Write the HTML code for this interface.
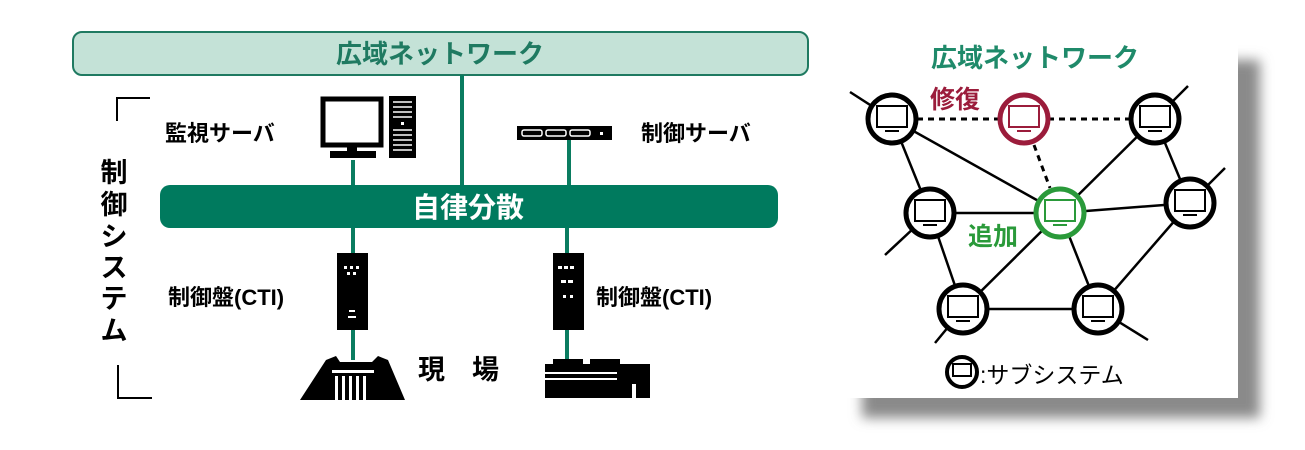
<!DOCTYPE html>
<html><head><meta charset="utf-8"><style>
html,body{margin:0;padding:0;background:#fff;width:1305px;height:450px;overflow:hidden}
svg text{font-family:"Liberation Sans","Noto Sans CJK JP",sans-serif}
</style></head><body>
<svg width="1305" height="450" viewBox="0 0 1305 450" xmlns="http://www.w3.org/2000/svg">
<defs><filter id="bl" x="-10%" y="-10%" width="130%" height="130%"><feGaussianBlur stdDeviation="6"/></filter></defs>
<rect x="73" y="32" width="735" height="43" rx="9" fill="#c4e2d7" stroke="#1f7a61" stroke-width="2"/>
<text x="440" y="63" font-size="26" fill="#1f7a61" text-anchor="middle" font-weight="bold">広域ネットワーク</text>
<line x1="462" y1="75" x2="462" y2="186" stroke="#0a7c60" stroke-width="4"/>
<line x1="353" y1="160" x2="353" y2="186" stroke="#0a7c60" stroke-width="4"/>
<line x1="569" y1="140" x2="569" y2="186" stroke="#0a7c60" stroke-width="4"/>
<line x1="353" y1="228" x2="353" y2="360" stroke="#0a7c60" stroke-width="4"/>
<line x1="567" y1="228" x2="567" y2="362" stroke="#0a7c60" stroke-width="4"/>
<rect x="160" y="185" width="618" height="43" rx="10" fill="#007a5e"/>
<text x="468" y="217" font-size="28" fill="#fff" text-anchor="middle" font-weight="bold">自律分散</text>
<rect x="323" y="99" width="58" height="46" fill="none" stroke="#000" stroke-width="5"/>
<rect x="347" y="145" width="10" height="7" fill="#000"/>
<rect x="330" y="151" width="46" height="7" fill="#000"/>
<rect x="389" y="96" width="27" height="62" fill="#000"/>
<g stroke="#fff" stroke-width="1.5"><line x1="393" y1="102" x2="412" y2="102"/><line x1="393" y1="107" x2="412" y2="107"/><line x1="393" y1="112" x2="412" y2="112"/><line x1="393" y1="117" x2="412" y2="117"/><line x1="393" y1="130" x2="412" y2="130"/><line x1="393" y1="135" x2="412" y2="135"/><line x1="393" y1="140" x2="412" y2="140"/><line x1="393" y1="145" x2="412" y2="145"/><line x1="393" y1="150" x2="412" y2="150"/></g>
<rect x="401" y="122" width="3" height="3" fill="#fff"/>
<text x="165" y="141" font-size="22" fill="#000" font-weight="bold">監視サーバ</text>
<rect x="517" y="126" width="95" height="14" fill="#000"/>
<g fill="none" stroke="#fff" stroke-width="1.5"><rect x="522" y="130" width="20" height="6" rx="2"/><rect x="546" y="130" width="20" height="6" rx="2"/><rect x="570" y="130" width="20" height="6" rx="2"/></g>
<rect x="600" y="132" width="3" height="3" fill="#fff"/>
<text x="641" y="141" font-size="22" fill="#000" font-weight="bold">制御サーバ</text>
<text font-size="27" fill="#000" text-anchor="middle" font-weight="bold"><tspan x="114" y="182">制</tspan><tspan x="114" y="214">御</tspan><tspan x="114" y="246">シ</tspan><tspan x="114" y="277">ス</tspan><tspan x="114" y="308">テ</tspan><tspan x="114" y="340">ム</tspan></text>
<path d="M150 98 H117 V121" fill="none" stroke="#000" stroke-width="2"/>
<path d="M118 365 V398 H152" fill="none" stroke="#000" stroke-width="2"/>
<text x="168" y="305" font-size="22" fill="#000" font-weight="bold">制御盤(CTI)</text>
<rect x="337" y="253" width="31" height="77" fill="#000"/>
<g fill="#fff"><rect x="344" y="266" width="3" height="3"/><rect x="350" y="266" width="3" height="3"/><rect x="356" y="266" width="3" height="3"/><rect x="347" y="272" width="3" height="3"/><rect x="353" y="272" width="3" height="3"/><rect x="349" y="310" width="6" height="2"/><rect x="348" y="316" width="8" height="2"/></g>
<rect x="553" y="253" width="31" height="77" fill="#000"/>
<g fill="#fff"><rect x="558" y="266" width="4" height="3"/><rect x="564" y="266" width="4" height="3"/><rect x="570" y="266" width="4" height="3"/><rect x="561" y="280" width="5" height="3"/><rect x="568" y="280" width="5" height="3"/><rect x="563" y="295" width="3" height="3"/><rect x="570" y="295" width="3" height="3"/></g>
<text x="596" y="305" font-size="22" fill="#000" font-weight="bold">制御盤(CTI)</text>
<path d="M300 400 L326 360 L336 356 L340 362 L372 362 L378 356 L388 360 L405 400 Z" fill="#000"/>
<g fill="#fff"><rect x="332" y="370" width="42" height="3"/><rect x="335" y="376" width="3" height="24"/><rect x="342" y="376" width="3" height="24"/><rect x="349" y="376" width="3" height="24"/><rect x="356" y="376" width="3" height="24"/><rect x="363" y="376" width="3" height="24"/></g>
<text x="418" y="379" font-size="27" fill="#000" font-weight="bold">現　場</text>
<path d="M545 364 H650 V398 H636 V384 H632 V398 H545 Z" fill="#000"/>
<rect x="553" y="359" width="30" height="6" fill="#000"/><rect x="590" y="359" width="30" height="6" fill="#000"/>
<g fill="#fff"><rect x="545" y="372" width="72" height="2"/><rect x="545" y="378" width="72" height="2"/></g>
<rect x="862" y="60" width="398" height="358" fill="#8a8a8a" filter="url(#bl)"/>
<rect x="840" y="38" width="398" height="360" fill="#fff"/>
<text x="1035" y="67" font-size="26" fill="#1f8a6a" text-anchor="middle" font-weight="bold">広域ネットワーク</text>
<g stroke="#000" stroke-width="2.5" fill="none">
<line x1="850" y1="92" x2="892" y2="119"/>
<line x1="1188" y1="86" x2="1155" y2="119"/>
<line x1="1225" y1="168" x2="1190" y2="203"/>
<line x1="885" y1="255" x2="930" y2="213"/>
<line x1="935" y1="343" x2="963" y2="309"/>
<line x1="1148" y1="340" x2="1098" y2="309"/>
<line x1="892" y1="119" x2="930" y2="213"/>
<line x1="892" y1="119" x2="1060" y2="213"/>
<line x1="930" y1="213" x2="1060" y2="213"/>
<line x1="1060" y1="213" x2="1190" y2="203"/>
<line x1="1060" y1="213" x2="1155" y2="119"/>
<line x1="1155" y1="119" x2="1190" y2="203"/>
<line x1="930" y1="213" x2="963" y2="309"/>
<line x1="1060" y1="213" x2="963" y2="309"/>
<line x1="1060" y1="213" x2="1098" y2="309"/>
<line x1="1190" y1="203" x2="1098" y2="309"/>
<line x1="963" y1="309" x2="1098" y2="309"/>
</g>
<g stroke="#000" stroke-width="3" stroke-dasharray="6,5">
<line x1="917" y1="119" x2="1000" y2="119"/>
<line x1="1048" y1="119" x2="1130" y2="119"/>
<line x1="1034" y1="145" x2="1050" y2="188"/>
</g>
<g fill="#fff" stroke-width="5">
<circle cx="892" cy="119" r="24" stroke="#000"/>
<circle cx="1024" cy="119" r="24" stroke="#9b1c3b"/>
<circle cx="1155" cy="119" r="24" stroke="#000"/>
<circle cx="930" cy="213" r="24" stroke="#000"/>
<circle cx="1060" cy="213" r="24" stroke="#2a9a3a"/>
<circle cx="1190" cy="203" r="24" stroke="#000"/>
<circle cx="963" cy="309" r="24" stroke="#000"/>
<circle cx="1098" cy="309" r="24" stroke="#000"/>
<circle cx="962" cy="372" r="15" stroke="#000" stroke-width="4"/>
</g>
<g fill="none" stroke-width="2">
<g stroke="#000"><rect x="877" y="106" width="30" height="21"/><rect x="1140" y="106" width="30" height="21"/><rect x="915" y="200" width="30" height="21"/><rect x="1175" y="190" width="30" height="21"/><rect x="948" y="296" width="30" height="21"/><rect x="1083" y="296" width="30" height="21"/><rect x="953" y="364" width="18" height="12"/></g>
<rect x="1009" y="106" width="30" height="21" stroke="#9b1c3b"/>
<rect x="1045" y="200" width="30" height="21" stroke="#2a9a3a"/>
</g>
<g stroke-width="2">
<g stroke="#000"><line x1="885" y1="131" x2="899" y2="131"/><line x1="1148" y1="131" x2="1162" y2="131"/><line x1="923" y1="225" x2="937" y2="225"/><line x1="1183" y1="215" x2="1197" y2="215"/><line x1="956" y1="321" x2="970" y2="321"/><line x1="1091" y1="321" x2="1105" y2="321"/></g>
<line x1="1017" y1="131" x2="1031" y2="131" stroke="#9b1c3b"/>
<line x1="1053" y1="225" x2="1067" y2="225" stroke="#2a9a3a"/>
</g>
<text x="930" y="108" font-size="25" fill="#9b1c3b" font-weight="bold">修復</text>
<text x="968" y="245" font-size="25" fill="#2a9a3a" font-weight="bold">追加</text>
<text x="980" y="383" font-size="23" fill="#000">:サブシステム</text>
</svg>
</body></html>
